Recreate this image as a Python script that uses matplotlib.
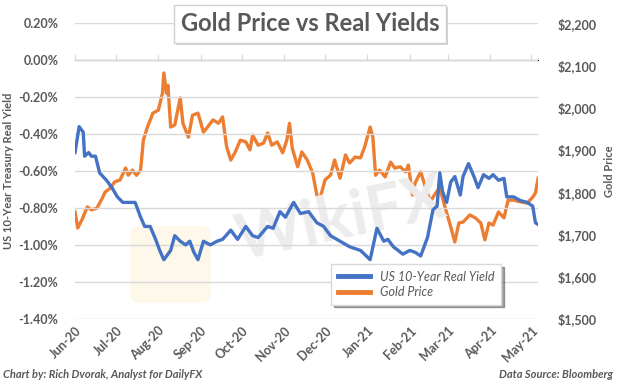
import matplotlib
matplotlib.use("Agg")
import matplotlib.pyplot as plt
import matplotlib.dates as mdates
import matplotlib.ticker as mticker
from matplotlib.patches import FancyBboxPatch, Rectangle
import pandas as pd

plt.rcParams['font.family'] = ['Lato', 'DejaVu Sans']

# US 10-year real yield (%)
yield_dates = ['2020-06-01', '2020-06-04', '2020-06-07', '2020-06-08', '2020-06-11', '2020-06-13',
               '2020-06-16', '2020-06-19', '2020-06-24', '2020-06-28', '2020-07-02', '2020-07-06',
               '2020-07-11', '2020-07-15', '2020-07-19', '2020-07-22', '2020-07-26', '2020-07-30',
               '2020-08-02', '2020-08-05', '2020-08-10', '2020-08-13', '2020-08-17', '2020-08-21',
               '2020-08-24', '2020-08-27', '2020-08-30', '2020-09-03', '2020-09-08', '2020-09-13',
               '2020-09-17', '2020-09-23', '2020-09-28', '2020-10-04', '2020-10-09', '2020-10-13',
               '2020-10-20', '2020-10-24', '2020-10-29', '2020-11-02', '2020-11-08', '2020-11-13',
               '2020-11-19', '2020-11-25', '2020-11-30', '2020-12-05', '2020-12-12', '2020-12-19',
               '2020-12-27', '2021-01-03', '2021-01-08', '2021-01-13', '2021-01-16', '2021-01-20',
               '2021-01-27', '2021-02-01', '2021-02-05', '2021-02-09', '2021-02-14', '2021-02-18',
               '2021-02-21', '2021-02-23', '2021-02-25', '2021-02-28', '2021-03-03', '2021-03-06',
               '2021-03-10', '2021-03-12', '2021-03-16', '2021-03-20', '2021-03-23', '2021-03-27',
               '2021-03-31', '2021-04-03', '2021-04-07', '2021-04-11', '2021-04-13', '2021-04-18',
               '2021-04-23', '2021-04-28', '2021-05-02', '2021-05-04', '2021-05-06']
real_yield = [-0.50, -0.36, -0.39, -0.52, -0.50, -0.52,
              -0.52, -0.61, -0.65, -0.69, -0.74, -0.77,
              -0.77, -0.77, -0.85, -0.90, -0.90, -0.97,
              -1.03, -1.08, -1.03, -0.95, -0.98, -1.00,
              -0.98, -1.04, -1.08, -0.98, -1.00, -0.98,
              -0.97, -0.92, -0.97, -0.90, -0.95, -0.96,
              -0.90, -0.91, -0.82, -0.85, -0.77, -0.83,
              -0.82, -0.88, -0.90, -0.95, -0.98, -1.01,
              -1.03, -1.08, -0.91, -0.98, -0.97, -1.01,
              -1.05, -1.03, -1.04, -1.06, -0.96, -0.81,
              -0.79, -0.61, -0.71, -0.77, -0.66, -0.63,
              -0.73, -0.63, -0.56, -0.63, -0.69, -0.62,
              -0.64, -0.62, -0.65, -0.64, -0.74, -0.74,
              -0.76, -0.77, -0.79, -0.88, -0.89]

# Gold price (USD)
gold_dates = ['2020-06-01', '2020-06-03', '2020-06-06', '2020-06-10', '2020-06-13', '2020-06-17',
              '2020-06-21', '2020-06-23', '2020-06-27', '2020-06-30', '2020-07-04', '2020-07-08',
              '2020-07-10', '2020-07-13', '2020-07-16', '2020-07-19', '2020-07-21', '2020-07-24',
              '2020-07-28', '2020-08-01', '2020-08-04', '2020-08-05', '2020-08-07', '2020-08-08',
              '2020-08-10', '2020-08-13', '2020-08-17', '2020-08-19', '2020-08-23', '2020-08-26',
              '2020-08-30', '2020-09-03', '2020-09-06', '2020-09-10', '2020-09-14', '2020-09-17',
              '2020-09-20', '2020-09-23', '2020-09-26', '2020-09-30', '2020-10-04', '2020-10-07',
              '2020-10-09', '2020-10-13', '2020-10-17', '2020-10-20', '2020-10-23', '2020-10-27',
              '2020-10-31', '2020-11-03', '2020-11-05', '2020-11-07', '2020-11-11', '2020-11-14',
              '2020-11-18', '2020-11-22', '2020-11-25', '2020-11-27', '2020-12-01', '2020-12-05',
              '2020-12-08', '2020-12-12', '2020-12-16', '2020-12-19', '2020-12-23', '2020-12-27',
              '2020-12-30', '2021-01-03', '2021-01-05', '2021-01-07', '2021-01-10', '2021-01-14',
              '2021-01-18', '2021-01-21', '2021-01-25', '2021-01-29', '2021-01-31', '2021-02-03',
              '2021-02-05', '2021-02-09', '2021-02-12', '2021-02-16', '2021-02-20', '2021-02-23',
              '2021-02-27', '2021-03-03', '2021-03-06', '2021-03-09', '2021-03-12', '2021-03-17',
              '2021-03-21', '2021-03-25', '2021-03-28', '2021-03-31', '2021-04-03', '2021-04-07',
              '2021-04-11', '2021-04-14', '2021-04-18', '2021-04-23', '2021-04-28', '2021-05-02',
              '2021-05-04', '2021-05-06']
gold_price = [1753, 1715, 1734, 1765, 1758, 1762,
              1786, 1800, 1810, 1824, 1829, 1857,
              1840, 1852, 1840, 1852, 1923, 1954,
              1987, 1994, 2034, 2082, 2034, 2053,
              1954, 1959, 2023, 1963, 1930, 1982,
              1987, 1942, 1954, 1971, 1963, 1978,
              1907, 1876, 1893, 1923, 1919, 1900,
              1935, 1911, 1916, 1940, 1911, 1919,
              1893, 1923, 1963, 1904, 1860, 1895,
              1876, 1845, 1793, 1781, 1829, 1840,
              1876, 1833, 1888, 1869, 1883, 1881,
              1907, 1954, 1930, 1840, 1852, 1836,
              1871, 1857, 1860, 1848, 1864, 1793,
              1822, 1848, 1817, 1777, 1798, 1810,
              1762, 1718, 1682, 1727, 1729, 1746,
              1739, 1727, 1687, 1727, 1722, 1753,
              1739, 1781, 1781, 1777, 1774, 1788,
              1798, 1833]

yield_dates = pd.to_datetime(yield_dates)
gold_dates = pd.to_datetime(gold_dates)

grey = '#595959'
fig = plt.figure(figsize=(6.2, 3.86), dpi=100)
ax = fig.add_axes([0.121, 0.174, 0.747, 0.766])
ax2 = ax.twinx()

# faint watermark
fig.patches.append(FancyBboxPatch((0.215, 0.22), 0.12, 0.19, boxstyle='round,pad=0.005,rounding_size=0.02',
                                  transform=fig.transFigure, facecolor='#fdf8ea', edgecolor='none',
                                  zorder=0))
fig.text(0.55, 0.43, 'WikiFX', fontsize=46, fontweight='bold', color='#ececec', rotation=12,
         ha='center', va='center', zorder=0.5)

l1, = ax.plot(yield_dates, real_yield, color='#4472c4', lw=2.4, zorder=3, label='US 10-Year Real Yield')
l2, = ax2.plot(gold_dates, gold_price, color='#ed7d31', lw=2.4, zorder=3, label='Gold Price')
ax.set_zorder(ax2.get_zorder() + 1)
ax.patch.set_visible(False)

ax.set_ylim(-1.4, 0.2)
ax.set_yticks([0.2, 0.0, -0.2, -0.4, -0.6, -0.8, -1.0, -1.2, -1.4])
ax.yaxis.set_major_formatter(mticker.FuncFormatter(lambda v, p: f'{v:.2f}%'))
ax2.set_ylim(1500, 2200)
ax2.set_yticks(range(1500, 2201, 100))
ax2.yaxis.set_major_formatter(mticker.FuncFormatter(lambda v, p: f'${v:,.0f}'))

ax.set_xlim(pd.Timestamp('2020-06-01'), pd.Timestamp('2021-05-06'))
months = pd.date_range('2020-06-01', '2021-05-01', freq='MS')
ax.set_xticks(months)
ax.xaxis.set_major_formatter(mdates.DateFormatter('%b-%y'))
ax.tick_params(axis='x', length=0, pad=4)
for lab in ax.get_xticklabels():
    lab.set_rotation(45)
    lab.set_ha('right')
    lab.set_rotation_mode('anchor')

ax.grid(axis='y', color='#d9d9d9', lw=1)
ax.tick_params(axis='y', length=0, pad=12)
ax2.tick_params(axis='y', length=0, pad=14)
for a in (ax, ax2):
    for s in a.spines.values():
        s.set_visible(False)
    for lab in a.get_xticklabels() + a.get_yticklabels():
        lab.set_fontsize(9)
        lab.set_fontweight('bold')
        lab.set_color(grey)

# category axis crossing at 0%
zero_pos = (0 - (-1.4)) / 1.6
xax = ax.secondary_xaxis(zero_pos)
xax.set_xticks(months)
xax.set_xticklabels([])
xax.tick_params(axis='x', length=4, color='#d9d9d9', labelbottom=False, labeltop=False, direction='out')
xax.spines['bottom'].set_color('#d9d9d9')

ax.set_ylabel('US 10-Year Treasury Real Yield', fontsize=8, fontweight='bold', color=grey, labelpad=3)
ax2.set_ylabel('Gold Price', fontsize=8, fontweight='bold', color=grey, labelpad=5)

leg = ax.legend(handles=[l1, l2], loc='lower left', bbox_to_anchor=(0.54, 0.027), frameon=True,
                fancybox=False, shadow=True, borderpad=0.5, handlelength=2.6, labelspacing=0.3,
                prop={'style': 'italic', 'size': 9})
leg.get_frame().set_edgecolor('#d9d9d9')
leg.get_frame().set_linewidth(1)
for t in leg.get_texts():
    t.set_color(grey)
for h in leg.legend_handles:
    h.set_linewidth(3.5)

title = fig.text(0.5, 0.938, 'Gold Price vs Real Yields', fontsize=17, fontweight='bold', color=grey,
                 ha='center', va='center', zorder=5,
                 bbox=dict(boxstyle='square,pad=0.3', facecolor='white', edgecolor='#d0d0d0', lw=1))

# soft shadow behind the title box
fig.canvas.draw()
bb = title.get_bbox_patch().get_window_extent().transformed(fig.transFigure.inverted())
fig.patches.append(Rectangle((bb.x0 + 2 / 620, bb.y0 - 2 / 386), bb.width, bb.height,
                             transform=fig.transFigure, facecolor='#d4d4d4', edgecolor='none', zorder=4))

fig.text(0.005, 0.03, 'Chart by: Rich Dvorak, Analyst for DailyFX', fontsize=8, fontweight='bold',
         style='italic', color=grey, ha='left', va='center')
fig.text(0.988, 0.03, 'Data Source: Bloomberg', fontsize=8, fontweight='bold',
         style='italic', color=grey, ha='right', va='center')

fig.savefig('out.png', dpi=100)
